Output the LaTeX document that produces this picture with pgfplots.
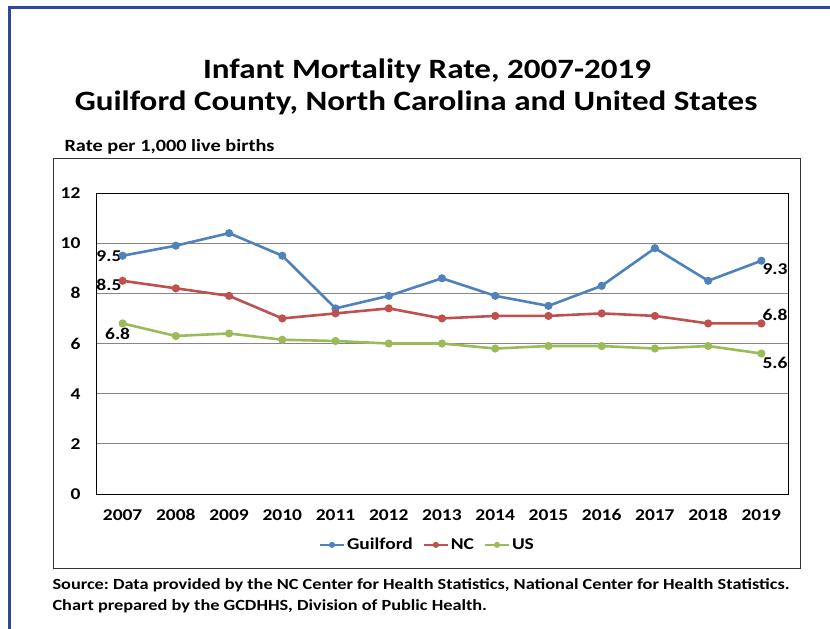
\documentclass[border=0pt]{standalone}
\usepackage{fontspec}
\setmainfont{Carlito}[FakeStretch=1.18]
\usepackage{pgfplots}
\pgfplotsset{compat=1.18}

\definecolor{cguil}{RGB}{79,129,189}
\definecolor{cnc}{RGB}{192,80,77}
\definecolor{cus}{RGB}{155,187,89}
\definecolor{frameblue}{RGB}{46,72,158}
\definecolor{gridgray}{RGB}{134,134,134}

\begin{document}
\frenchspacing
\begin{tikzpicture}[font=\bfseries]
\path[use as bounding box] (0,0) rectangle (830bp,-629bp);
% outer blue frame (only left and top visible)
\draw[frameblue, line width=3bp] (9.5bp,-629bp) -- (9.5bp,-7.5bp) -- (830bp,-7.5bp);
% chart box
\draw[black!80, line width=0.8bp] (53bp,-158bp) rectangle (800bp,-568bp);

\node at (427bp,-71bp) {\fontsize{28bp}{30bp}\selectfont Infant Mortality Rate, 2007-2019};
\node at (416bp,-103bp) {\fontsize{28bp}{30bp}\selectfont Guilford County, North Carolina and United States};
\node[anchor=base west] at (61bp,-151bp) {\fontsize{17.2bp}{18bp}\selectfont Rate per 1,000 live births};
\node[anchor=base west] at (49bp,-589bp) {\fontsize{15.5bp}{18bp}\selectfont Source: Data provided by the NC Center for Health Statistics, National Center for Health Statistics.};
\node[anchor=base west] at (49bp,-610bp) {\fontsize{15.5bp}{18bp}\selectfont Chart prepared by the GCDHHS, Division of Public Health.};

\begin{axis}[
  at={(96bp,-494bp)}, anchor=south west,
  scale only axis, width=692bp, height=301bp,
  xmin=2006.5, xmax=2019.5, ymin=0, ymax=12,
  xtick={2007,...,2019}, ytick={0,2,...,12},
  major tick length=0pt,
  /pgf/number format/assume math mode=true,
  /pgf/number format/1000 sep={},
  tick label style={font=\bfseries\fontsize{16.5bp}{18bp}\selectfont},
  yticklabel style={xshift=-12bp},
  xticklabel style={yshift=-12bp},
  ymajorgrids, grid style={gridgray, line width=0.9bp},
  axis line style={black, line width=0.9bp},
  every axis plot/.append style={line width=2.6bp, mark=*, mark size=2.7bp},
  legend columns=3,
  legend style={at={(0.479,-0.169)}, anchor=center, draw=none,
    font=\bfseries\fontsize{16.5bp}{18bp}\selectfont,
    /tikz/every even column/.append style={column sep=8bp}},
  legend image code/.code={
    \draw[#1, mark repeat=2, mark phase=2, line width=2bp, mark size=2bp]
      plot coordinates {(0bp,0bp) (12bp,0bp) (24bp,0bp)};},
  clip=false,
]
\addplot[cguil] coordinates {
(2007,9.5) (2008,9.9) (2009,10.4) (2010,9.5) (2011,7.4) (2012,7.9) (2013,8.6)
(2014,7.9) (2015,7.5) (2016,8.3) (2017,9.8) (2018,8.5) (2019,9.3)
};
\addlegendentry{Guilford}
\addplot[cnc] coordinates {
(2007,8.5) (2008,8.2) (2009,7.9) (2010,7.0) (2011,7.2) (2012,7.4) (2013,7.0)
(2014,7.1) (2015,7.1) (2016,7.2) (2017,7.1) (2018,6.8) (2019,6.8)
};
\addlegendentry{NC}
\addplot[cus] coordinates {
(2007,6.8) (2008,6.3) (2009,6.4) (2010,6.15) (2011,6.1) (2012,6.0) (2013,6.0)
(2014,5.8) (2015,5.9) (2016,5.9) (2017,5.8) (2018,5.9) (2019,5.6)
};
\addlegendentry{US}

\begin{scope}[every node/.style={font=\bfseries\fontsize{16.5bp}{18bp}\selectfont, inner sep=1bp}]
\node[anchor=east] at (axis cs:2007,9.5) {9.5};
\node[anchor=east, yshift=-4bp] at (axis cs:2007,8.5) {8.5};
\node[anchor=north, xshift=-5bp, yshift=-3bp] at (axis cs:2007,6.8) {6.8};
\node[anchor=north west, yshift=-2bp] at (axis cs:2019,9.3) {9.3};
\node[anchor=south west, yshift=2bp] at (axis cs:2019,6.8) {6.8};
\node[anchor=north west, yshift=-2bp] at (axis cs:2019,5.6) {5.6};
\end{scope}
\end{axis}
\end{tikzpicture}
\end{document}
